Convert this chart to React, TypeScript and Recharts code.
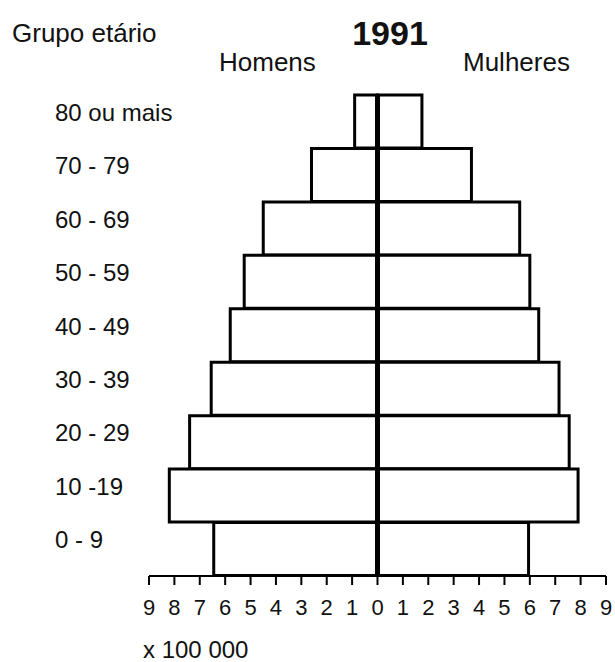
import { Bar, BarChart, ReferenceLine, XAxis, YAxis } from 'recharts'

const groups = ['80 ou mais', '70 - 79', '60 - 69', '50 - 59', '40 - 49', '30 - 39', '20 - 29', '10 -19', '0 - 9']
const homens = [0.9, 2.6, 4.5, 5.25, 5.8, 6.55, 7.4, 8.2, 6.45]
const mulheres = [1.75, 3.7, 5.6, 6.0, 6.35, 7.15, 7.55, 7.9, 5.95]
const xTicks = [-9, -8, -7, -6, -5, -4, -3, -2, -1, 0, 1, 2, 3, 4, 5, 6, 7, 8, 9]

const font = '"Liberation Sans", Arial, sans-serif'

const data = groups.map((g, i) => ({ group: g, homens: -homens[i], mulheres: mulheres[i] }))

function GroupTick({ y, payload }: any) {
  return (
    <text x={55} y={y} dy={-1} textAnchor="start" fontFamily={font} fontSize={24} fill="#111">
      {payload.value}
    </text>
  )
}

export default function App() {
  return (
    <div style={{ position: 'absolute', left: 0, top: 0, width: 615, height: 662, background: '#fff' }}>
      <BarChart
        width={615}
        height={662}
        data={data}
        layout="vertical"
        stackOffset="sign"
        barCategoryGap={0}
        barGap={0}
        margin={{ top: 95, right: 9, bottom: 36, left: 0 }}
      >
        <XAxis
          type="number"
          domain={[-9, 9]}
          ticks={xTicks}
          interval={0}
          tickFormatter={(v: number) => String(Math.abs(v))}
          height={50}
          tickSize={9}
          tickMargin={14}
          axisLine={{ stroke: '#000', strokeWidth: 2 }}
          tickLine={{ stroke: '#000', strokeWidth: 2 }}
          tick={{ fill: '#111', fontSize: 22, fontFamily: font }}
        />
        <YAxis
          type="category"
          dataKey="group"
          width={149}
          axisLine={false}
          tickLine={false}
          interval={0}
          tick={<GroupTick />}
        />
        <Bar dataKey="homens" stackId="a" fill="#fff" stroke="#000" strokeWidth={3} isAnimationActive={false} />
        <Bar dataKey="mulheres" stackId="a" fill="#fff" stroke="#000" strokeWidth={3} isAnimationActive={false} />
        <ReferenceLine x={0} stroke="#000" strokeWidth={5} />
      </BarChart>
      <svg
        width={615}
        height={662}
        style={{ position: 'absolute', left: 0, top: 0, pointerEvents: 'none' }}
        fontFamily={font}
      >
        <text x={12} y={42} fontSize={26} fill="#111">Grupo etário</text>
        <text x={390} y={45} fontSize={34} fontWeight="bold" textAnchor="middle" fill="#111">1991</text>
        <text x={219} y={71} fontSize={26} fill="#111">Homens</text>
        <text x={463} y={71} fontSize={26} fill="#111">Mulheres</text>
        <text x={143} y={658} fontSize={24} fill="#111">x 100 000</text>
      </svg>
    </div>
  )
}
